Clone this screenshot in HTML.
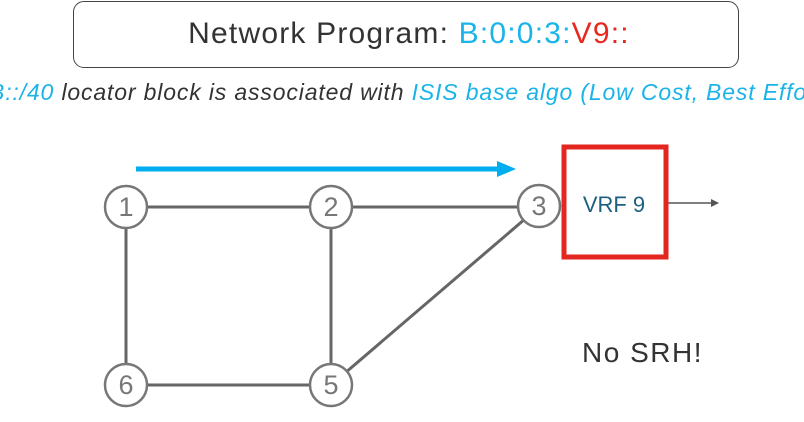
<!DOCTYPE html>
<html><head><meta charset="utf-8"><style>
html,body{margin:0;padding:0;background:#fff;width:804px;height:422px;overflow:hidden;position:relative;font-family:"Liberation Sans",sans-serif}
.box{position:absolute;left:73px;top:1px;width:666px;height:67px;border:1.5px solid #444;border-radius:11px;box-sizing:border-box}
.t1{position:absolute;left:76px;top:17px;width:666px;text-align:center;font-size:30px;letter-spacing:1.2px;color:#333;white-space:nowrap}
.t2{position:absolute;left:-11px;top:79px;font-size:23px;letter-spacing:0.85px;font-style:italic;color:#333;white-space:nowrap}
.b{color:#1ab4e8}.r{color:#e8281e}
</style></head><body>
<div class="box"></div>
<div class="t1">Network Program: <span class="b">B:0:0:3:</span><span class="r">V9::</span></div>
<div class="t2"><span class="b">B::/40</span> locator block is associated with <span class="b">ISIS base algo (Low Cost, Best Effort)</span></div>
<svg width="804" height="422" style="position:absolute;left:0;top:0">
<g stroke="#666" stroke-width="3">
<line x1="126" y1="207" x2="331" y2="207"/>
<line x1="331" y1="207" x2="539" y2="207"/>
<line x1="126" y1="207" x2="126" y2="385"/>
<line x1="331" y1="207" x2="331" y2="385"/>
<line x1="126" y1="385" x2="331" y2="385"/>
<line x1="331" y1="385" x2="539" y2="207"/>
</g>
<line x1="136" y1="169" x2="500" y2="169" stroke="#00aeef" stroke-width="5"/>
<polygon points="497,161 516,169 497,177" fill="#00aeef"/>
<line x1="667" y1="203" x2="712" y2="203" stroke="#555" stroke-width="1.5"/>
<polygon points="711,199 719,203 711,207" fill="#555"/>
<g fill="#fff" stroke="#777" stroke-width="2.5">
<circle cx="126" cy="207" r="21"/><circle cx="331" cy="207" r="21"/><circle cx="539" cy="206" r="21"/>
<circle cx="126" cy="385" r="21"/><circle cx="331" cy="385" r="21"/>
</g>
<g font-family="Liberation Sans" font-size="27" fill="#777" text-anchor="middle">
<text x="126" y="216">1</text><text x="331" y="216">2</text><text x="539" y="215">3</text>
<text x="126" y="394">6</text><text x="331" y="394">5</text>
</g>
<rect x="564" y="147" width="102" height="110" fill="#fff" stroke="#e3261f" stroke-width="5"/>
<text x="614" y="212" font-family="Liberation Sans" font-size="22" fill="#1d5f80" text-anchor="middle">VRF 9</text>
<text x="582" y="362" font-family="Liberation Sans" font-size="28" letter-spacing="1.5" fill="#333">No SRH!</text>
</svg>
</body></html>
